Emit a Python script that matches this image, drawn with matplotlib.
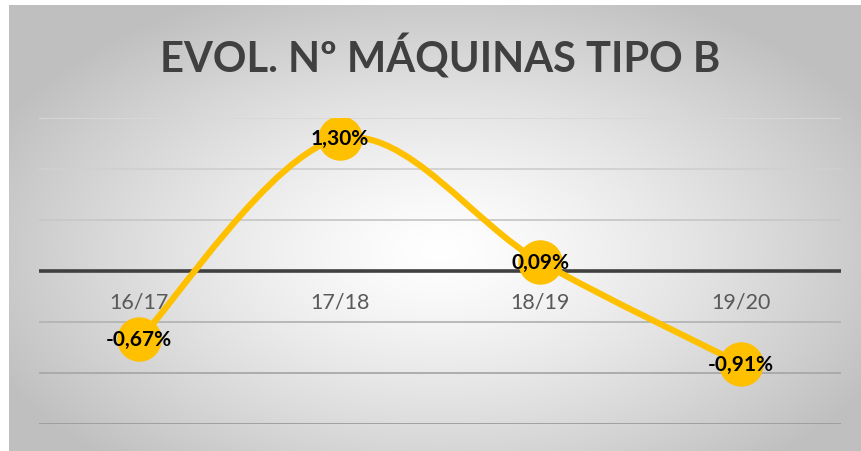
import numpy as np
import matplotlib.pyplot as plt
from matplotlib.path import Path
from matplotlib.patches import PathPatch

plt.rcParams['font.family'] = ['Lato', 'DejaVu Sans']

campaigns = ["16/17", "17/18", "18/19", "19/20"]
variation = [-0.67, 1.30, 0.09, -0.91]
value_labels = ["-0,67%", "1,30%", "0,09%", "-0,91%"]
grid_levels = [-1.5, -1.0, -0.5, 0.5, 1.0, 1.5]

YELLOW = "#FFC000"

fig = plt.figure(figsize=(8.61, 4.52), dpi=100)
fig.patch.set_facecolor("white")

# radial grey background of the chart area
bg = fig.add_axes([9 / 861, 0, 852 / 861, 446 / 452])
h, w = 446, 852
yy, xx = np.mgrid[0:h, 0:w]
dx = (xx - 430) / 430
dy = (yy - 245) / 245
r = np.clip(np.sqrt(dx ** 2 + dy ** 2) / 1.15, 0, 1)
shade = 1 - 0.25 * r ** 1.3
bg.imshow(np.dstack([shade] * 3), aspect="auto", extent=[0, 1, 0, 1])
bg.axis("off")

ax = fig.add_axes([39 / 861, 27 / 452, 802 / 861, 306 / 452])
ax.set_facecolor("none")
ax.set_xlim(-0.5, len(campaigns) - 0.5)
ax.set_ylim(-1.5, 1.5)

# gridlines, darker towards the bottom
grid_colors = ["#9c9c9c", "#a8a8a8", "#b4b4b4", "#c8c8c8", "#d0d0d0", "#d8d8d8"]
for lvl, c in zip(grid_levels, grid_colors):
    ax.axhline(lvl, color=c, lw=1.3, zorder=1)
ax.axhline(0, color="#404040", lw=2.6, zorder=2)

for s in ax.spines.values():
    s.set_visible(False)
ax.set_yticks([])
ax.set_xticks(range(len(campaigns)))
ax.set_xticklabels([])
ax.tick_params(length=0)
for i, lab in enumerate(campaigns):
    ax.annotate(lab, (i, 0), xytext=(0, -22), textcoords="offset points",
                ha="center", va="center", fontsize=15.5, color="#595959")

# smoothed line (Bezier through the points)
pts = np.column_stack([np.arange(len(variation)), variation]).astype(float)
ext = np.vstack([pts[0], pts, pts[-1]])
verts = [tuple(pts[0])]
codes = [Path.MOVETO]
for i in range(len(pts) - 1):
    p0, p1, p2, p3 = ext[i], ext[i + 1], ext[i + 2], ext[i + 3]
    c1 = p1 + (p2 - p0) / 6
    c2 = p2 - (p3 - p1) / 6
    verts += [tuple(c1), tuple(c2), tuple(p2)]
    codes += [Path.CURVE4] * 3
ax.add_patch(PathPatch(Path(verts, codes), fill=False, edgecolor=YELLOW,
                       lw=4.5, capstyle="round", zorder=3))

ax.plot(range(len(variation)), variation, ls="none", marker="o", ms=31,
        color=YELLOW, zorder=4)

for i, (v, lab) in enumerate(zip(variation, value_labels)):
    ax.text(i, v, lab, ha="center", va="center", fontsize=15,
            fontweight="bold", color="black", zorder=5)

fig.text(440 / 861, 1 - 57 / 452, "EVOL. Nº MÁQUINAS TIPO B", ha="center",
         va="center", fontsize=30, fontweight="bold", color="#404040")

fig.savefig("out.png", dpi=100)
